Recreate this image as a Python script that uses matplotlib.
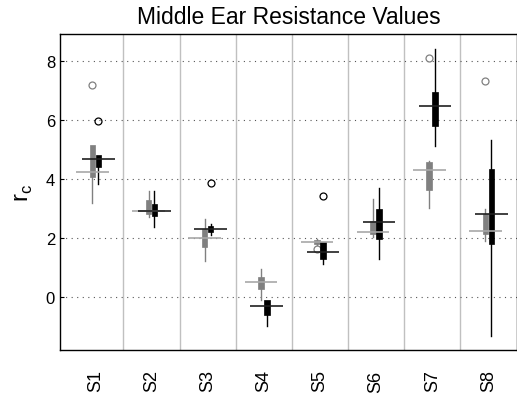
import matplotlib
matplotlib.use("Agg")
import matplotlib.pyplot as plt

plt.rcParams["font.family"] = ["Liberation Sans", "DejaVu Sans"]

subjects = ["S1", "S2", "S3", "S4", "S5", "S6", "S7", "S8"]

# grey series (first measurement)
grey_q1 = [4.05, 2.79, 1.67, 0.27, 1.78, 2.14, 3.60, 2.14]
grey_med = [4.22, 2.89, 2.00, 0.51, 1.87, 2.18, 4.29, 2.24]
grey_q3 = [5.14, 3.27, 2.31, 0.68, 1.92, 2.58, 4.56, 2.79]
grey_lo = [3.16, 2.70, 1.22, -0.10, 1.74, 2.04, 2.99, 1.90]
grey_hi = [5.14, 3.57, 2.62, 0.95, 1.95, 3.30, 4.60, 2.96]
grey_out = [[7.18], [], [], [], [1.63], [], [8.10], [7.31]]

# black series (second measurement)
black_q1 = [4.39, 2.72, 2.21, -0.61, 1.29, 1.97, 5.78, 1.80]
black_med = [4.66, 2.92, 2.31, -0.31, 1.53, 2.52, 6.46, 2.82]
black_q3 = [4.80, 3.13, 2.41, -0.10, 1.84, 2.96, 6.94, 4.32]
black_lo = [3.81, 2.38, 2.10, -0.99, 1.12, 1.29, 5.10, -1.33]
black_hi = [4.80, 3.57, 2.48, -0.10, 1.84, 3.67, 8.40, 5.31]
black_out = [[5.95], [], [3.84], [], [3.40], [], [], []]


def stats(q1, med, q3, lo, hi, out):
    return [dict(q1=a, med=b, q3=c, whislo=d, whishi=e, fliers=f)
            for a, b, c, d, e, f in zip(q1, med, q3, lo, hi, out)]


fig = plt.figure(figsize=(5.17, 4.02), dpi=100)
ax = fig.add_axes([0.116, 0.127, 0.884, 0.786])

x = list(range(1, len(subjects) + 1))
off = 0.053
series = [
    (stats(grey_q1, grey_med, grey_q3, grey_lo, grey_hi, grey_out), -off, "#808080", "#a8a8a8"),
    (stats(black_q1, black_med, black_q3, black_lo, black_hi, black_out), off, "black", "#202020"),
]

for st, dx, col, medcol in series:
    pos = [p + dx for p in x]
    ax.bxp(st, positions=pos, widths=0.1, patch_artist=True, showcaps=False,
           boxprops=dict(facecolor=col, edgecolor=col, linewidth=0.5),
           whiskerprops=dict(color=col, linewidth=1.0),
           medianprops=dict(linewidth=0),
           flierprops=dict(marker="o", markersize=5, markerfacecolor="none",
                           markeredgecolor=col, markeredgewidth=0.9),
           manage_ticks=False, zorder=3)
    meds = [s["med"] for s in st]
    ax.hlines(meds, [p - 0.29 for p in pos], [p + 0.29 for p in pos],
              colors=medcol, linewidth=1.2, zorder=4)

for b in range(1, len(subjects)):
    ax.axvline(b + 0.5, color="#c0c0c0", linewidth=1.0, zorder=1)

ax.set_xlim(0.37, 8.51)
ax.set_ylim(-1.8, 8.9)
ax.set_yticks([0, 2, 4, 6, 8])
ax.yaxis.grid(True, linestyle=(0, (1, 4)), color="#555555", linewidth=0.8)
ax.set_xticks(x)
ax.set_xticklabels(subjects, rotation=90, fontsize=13)
ax.tick_params(axis="x", length=0, pad=14)
ax.tick_params(axis="y", direction="in", length=3, labelsize=12)
ax.set_ylabel("r$_\\mathregular{c}$", fontsize=17, labelpad=8)
ax.set_title("Middle Ear Resistance Values", fontsize=16.5, pad=8)
for s in ax.spines.values():
    s.set_linewidth(1.0)

fig.savefig("out.png", dpi=100)
